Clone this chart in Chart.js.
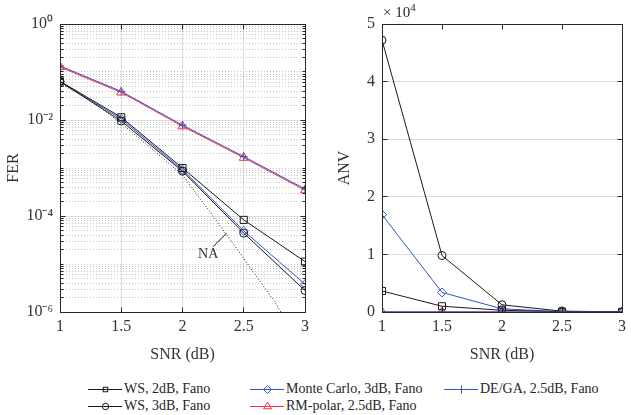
<!DOCTYPE html>
<html><head><meta charset="utf-8">
<script src="https://cdn.jsdelivr.net/npm/chart.js@4/dist/chart.umd.min.js"></script>
<style>
html,body{margin:0;padding:0;background:#fff;width:631px;height:415px;overflow:hidden;font-family:'Liberation Serif','Times New Roman',serif;color:#262626}
#c1{position:absolute;left:0;top:0}
#c2{position:absolute;left:320px;top:0}
#exp{position:absolute;left:383px;top:3px;font-size:15px;line-height:18px;white-space:nowrap}
#exp sup{font-size:11px;vertical-align:6px;line-height:0}
.li{position:absolute;font-size:14px;white-space:nowrap;line-height:16px;height:16px}
.li svg{position:absolute;left:0;top:2px}
.li span{position:absolute;top:0}
</style></head><body>
<canvas id="c1" width="320" height="372"></canvas>
<canvas id="c2" width="311" height="372"></canvas>
<div id="exp">&#215; 10<sup>4</sup></div>
<div id="legend"></div>
<script>
// ---------------- data ----------------
const snr = [1, 1.5, 2, 2.5, 3];
const ferWS2  = [0.064, 0.0114, 1.0e-3, 8.3e-5, 1.12e-5];
const ferWS3  = [0.063, 0.0095, 8.6e-4, 4.4e-5, 2.8e-6];
const ferMC   = [0.063, 0.0105, 9.2e-4, 4.9e-5, 3.8e-6];
const ferRM   = [0.127, 0.0375, 0.0074, 0.00164, 3.45e-4];
const ferDEGA = [0.134, 0.0395, 0.0078, 0.00173, 3.65e-4];
const naSnr = [1, 1.25, 1.5, 1.75, 2, 2.25, 2.5, 2.75, 3];
const ferNA = [0.058, 0.026, 0.0085, 0.0025, 7.1e-4, 9.9e-5, 1.3e-5, 1.67e-6, 1.5e-7];
const anvWS2  = [3650, 1000, 300, 50, 10];
const anvWS3  = [47200, 9800, 1250, 150, 20];
const anvMC   = [16900, 3400, 550, 60, 10];
const anvRM   = [30, 20, 10, 5, 2];
const anvDEGA = [20, 15, 8, 4, 2];
const seriesLabels = ['WS, 2dB, Fano', 'WS, 3dB, Fano', 'Monte Carlo, 3dB, Fano', 'RM-polar, 2.5dB, Fano', 'DE/GA, 2.5dB, Fano'];
const ferTickLabels = {'0':'10\u2070', '-2':'10\u207B\u00B2', '-4':'10\u207B\u2074', '-6':'10\u207B\u2076'};
const anvTickValues = [0, 10000, 20000, 30000, 40000, 50000];
const naLabel = {x: 2.21, y: 1.6e-5, text: 'NA'};
const naPointer = [{x: 2.25, y: 2.3e-5}, {x: 2.36, y: 4.4e-5}];

// ---------------- styles ----------------
const BLACK = '#1a1a1a', BLUE = '#2f56c6', RED = '#ff2b40';
const styles = [
  {color: BLACK, pointStyle: 'rect', r: 5, lr: 3.6},
  {color: BLACK, pointStyle: 'circle', r: 4, lr: 3.2},
  {color: BLUE, pointStyle: 'rectRot', r: 4.5, lr: 4},
  {color: RED, pointStyle: 'triangle', r: 5.2, lr: 4.5},
  {color: BLUE, pointStyle: 'cross', r: 4, lr: 4}
];
const AXC = '#262626', TXT = '#333333';
const FONT = "'Liberation Serif', 'Times New Roman', serif";

function mkDatasets(arrs) {
  return arrs.map((d, i) => ({
    label: seriesLabels[i],
    data: snr.map((x, j) => ({x: x, y: d[j]})),
    borderColor: styles[i].color,
    borderWidth: 1,
    pointStyle: styles[i].pointStyle,
    pointRadius: styles[i].r,
    pointBorderWidth: 1,
    pointBorderColor: styles[i].color,
    pointBackgroundColor: 'rgba(0,0,0,0)',
    order: i === 4 ? -1 : i,
    tension: 0
  }));
}
function al(p) { return Math.round(p - 0.5) + 0.5; }

function framePlugin(isMajorY) {
  return {
    id: 'frame',
    afterDatasetsDraw(chart) {
      const {ctx, chartArea: a} = chart;
      const xs = chart.scales.x, ys = chart.scales.y;
      ctx.save();
      ctx.strokeStyle = AXC; ctx.lineWidth = 1;
      const L = al(a.left), R = al(a.right), T = al(a.top), B = al(a.bottom);
      ctx.beginPath();
      xs.ticks.forEach(t => {
        const p = al(xs.getPixelForValue(t.value));
        ctx.moveTo(p, B); ctx.lineTo(p, B - 5);
        ctx.moveTo(p, T); ctx.lineTo(p, T + 5);
      });
      ys.ticks.forEach(t => {
        const p = al(ys.getPixelForValue(t.value));
        const len = isMajorY(t.value) ? 5 : 3;
        ctx.moveTo(L, p); ctx.lineTo(L + len, p);
        ctx.moveTo(R, p); ctx.lineTo(R - len, p);
      });
      ctx.stroke();
      ctx.strokeRect(L, T, R - L, B - T);
      ctx.restore();
    }
  };
}
function isDecade(v) { const l = Math.log10(v); return Math.abs(l - Math.round(l)) < 1e-6; }
function isLabelDecade(v) { return isDecade(v) && Math.round(Math.log10(v)) % 2 === 0; }

const naPlugin = {
  id: 'naNote',
  afterDatasetsDraw(chart) {
    const {ctx} = chart; const xs = chart.scales.x, ys = chart.scales.y;
    ctx.save();
    ctx.strokeStyle = BLACK; ctx.lineWidth = 1;
    ctx.beginPath();
    ctx.moveTo(xs.getPixelForValue(naPointer[0].x), ys.getPixelForValue(naPointer[0].y));
    ctx.lineTo(xs.getPixelForValue(naPointer[1].x), ys.getPixelForValue(naPointer[1].y));
    ctx.stroke();
    ctx.fillStyle = TXT; ctx.font = "14px " + FONT;
    ctx.textAlign = 'center'; ctx.textBaseline = 'middle';
    ctx.fillText(naLabel.text, xs.getPixelForValue(naLabel.x), ys.getPixelForValue(naLabel.y));
    ctx.restore();
  }
};

const tickFont = {family: FONT, size: 16};
const titleFont = {family: FONT, size: 16};

// ---------------- FER chart ----------------
const ferDatasets = mkDatasets([ferWS2, ferWS3, ferMC, ferRM, ferDEGA]);
ferDatasets.push({
  label: 'NA', data: naSnr.map((x, j) => ({x: x, y: ferNA[j]})),
  borderColor: BLACK, borderWidth: 1, borderDash: [1, 2], pointRadius: 0, order: 10
});
new Chart(document.getElementById('c1'), {
  type: 'line',
  data: {datasets: ferDatasets},
  options: {
    responsive: false, animation: false,
    layout: {padding: {top: 24, right: 15, left: 0, bottom: 0}},
    plugins: {legend: {display: false}, tooltip: {enabled: false}},
    scales: {
      x: {
        type: 'linear', min: 1, max: 3,
        ticks: {stepSize: 0.5, color: TXT, font: tickFont, padding: 5, maxRotation: 0,
                callback: v => String(v)},
        grid: {color: '#dcdcdc', drawTicks: false, lineWidth: 1},
        border: {display: false},
        title: {display: true, text: 'SNR (dB)', color: TXT, font: titleFont, padding: {top: 8, bottom: 8}},
        afterFit: s => { s.height = 60; }
      },
      y: {
        type: 'logarithmic', min: 1e-6, max: 1,
        afterBuildTicks: s => {
          const t = [];
          for (let e = -6; e <= 0; e++) {
            for (let m = 1; m <= 9; m++) {
              const v = m * Math.pow(10, e);
              if (v <= 1.0000001) t.push({value: e === 0 && m === 1 ? 1 : parseFloat(v.toPrecision(3))});
            }
          }
          s.ticks = t;
        },
        ticks: {autoSkip: false, color: TXT, font: tickFont, padding: 7,
          callback: v => { if (!isLabelDecade(v)) return ''; return ferTickLabels[String(Math.round(Math.log10(v)))]; }},
        grid: {
          drawTicks: false, lineWidth: 1,
          color: c => isLabelDecade(c.tick.value) ? '#dcdcdc' : '#c4c4c4'
        },
        border: {display: false, dash: c => (c.tick && isLabelDecade(c.tick.value)) ? [] : [1, 2]},
        title: {display: true, text: 'FER', color: TXT, font: titleFont, padding: {top: 4, bottom: 0}},
        afterFit: s => { s.width = 60; }
      }
    }
  },
  plugins: [framePlugin(isLabelDecade), naPlugin]
});

// ---------------- ANV chart ----------------
new Chart(document.getElementById('c2'), {
  type: 'line',
  data: {datasets: mkDatasets([anvWS2, anvWS3, anvMC, anvRM, anvDEGA])},
  options: {
    responsive: false, animation: false,
    layout: {padding: {top: 24, right: 3, left: 0, bottom: 0}},
    plugins: {legend: {display: false}, tooltip: {enabled: false}},
    scales: {
      x: {
        type: 'linear', min: 1, max: 3,
        ticks: {stepSize: 0.5, color: TXT, font: tickFont, padding: 5, maxRotation: 0,
                callback: v => String(v)},
        grid: {display: false, drawTicks: false},
        border: {display: false},
        title: {display: true, text: 'SNR (dB)', color: TXT, font: titleFont, padding: {top: 8, bottom: 8}},
        afterFit: s => { s.height = 60; }
      },
      y: {
        type: 'linear', min: 0, max: 50000,
        afterBuildTicks: s => { s.ticks = anvTickValues.map(v => ({value: v})); },
        ticks: {color: TXT, font: tickFont, padding: 7, callback: v => String(v / 10000)},
        grid: {color: '#dcdcdc', drawTicks: false, lineWidth: 1},
        border: {display: false},
        title: {display: true, text: 'ANV', color: TXT, font: titleFont, padding: {top: 15, bottom: 0}},
        afterFit: s => { s.width = 62; }
      }
    }
  },
  plugins: [framePlugin(() => true)]
});

// ---------------- legend ----------------
const legendPos = [[88, 381], [88, 398], [250, 381], [250, 398], [444, 381]];
const lg = document.getElementById('legend');
function markerSvg(st, cx, cy) {
  const r = st.lr, c = st.color;
  switch (st.pointStyle) {
    case 'rect': return `<rect x="${cx - r/1.6}" y="${cy - r/1.6}" width="${2*r/1.6}" height="${2*r/1.6}" fill="none" stroke="${c}" stroke-width="1"/>`;
    case 'circle': return `<circle cx="${cx}" cy="${cy}" r="${r}" fill="none" stroke="${c}" stroke-width="1"/>`;
    case 'rectRot': return `<polygon points="${cx},${cy - r} ${cx + r},${cy} ${cx},${cy + r} ${cx - r},${cy}" fill="none" stroke="${c}" stroke-width="1"/>`;
    case 'triangle': return `<polygon points="${cx},${cy - r} ${cx + r*0.87},${cy + r*0.5} ${cx - r*0.87},${cy + r*0.5}" fill="none" stroke="${c}" stroke-width="1"/>`;
    case 'cross': return `<path d="M${cx} ${cy - r}V${cy + r}M${cx - r} ${cy}H${cx + r}" stroke="${c}" stroke-width="1"/>`;
  }
  return '';
}
seriesLabels.forEach((lab, i) => {
  const st = styles[i];
  const d = document.createElement('div');
  d.className = 'li';
  d.style.left = legendPos[i][0] + 'px';
  d.style.top = legendPos[i][1] + 'px';
  d.innerHTML = `<svg width="36" height="12"><line x1="0" y1="6.5" x2="34" y2="6.5" stroke="${st.color}" stroke-width="1"/>${markerSvg(st, 17.5, 6.5)}</svg><span style="left:36px">${lab}</span>`;
  lg.appendChild(d);
});
</script>
</body></html>
